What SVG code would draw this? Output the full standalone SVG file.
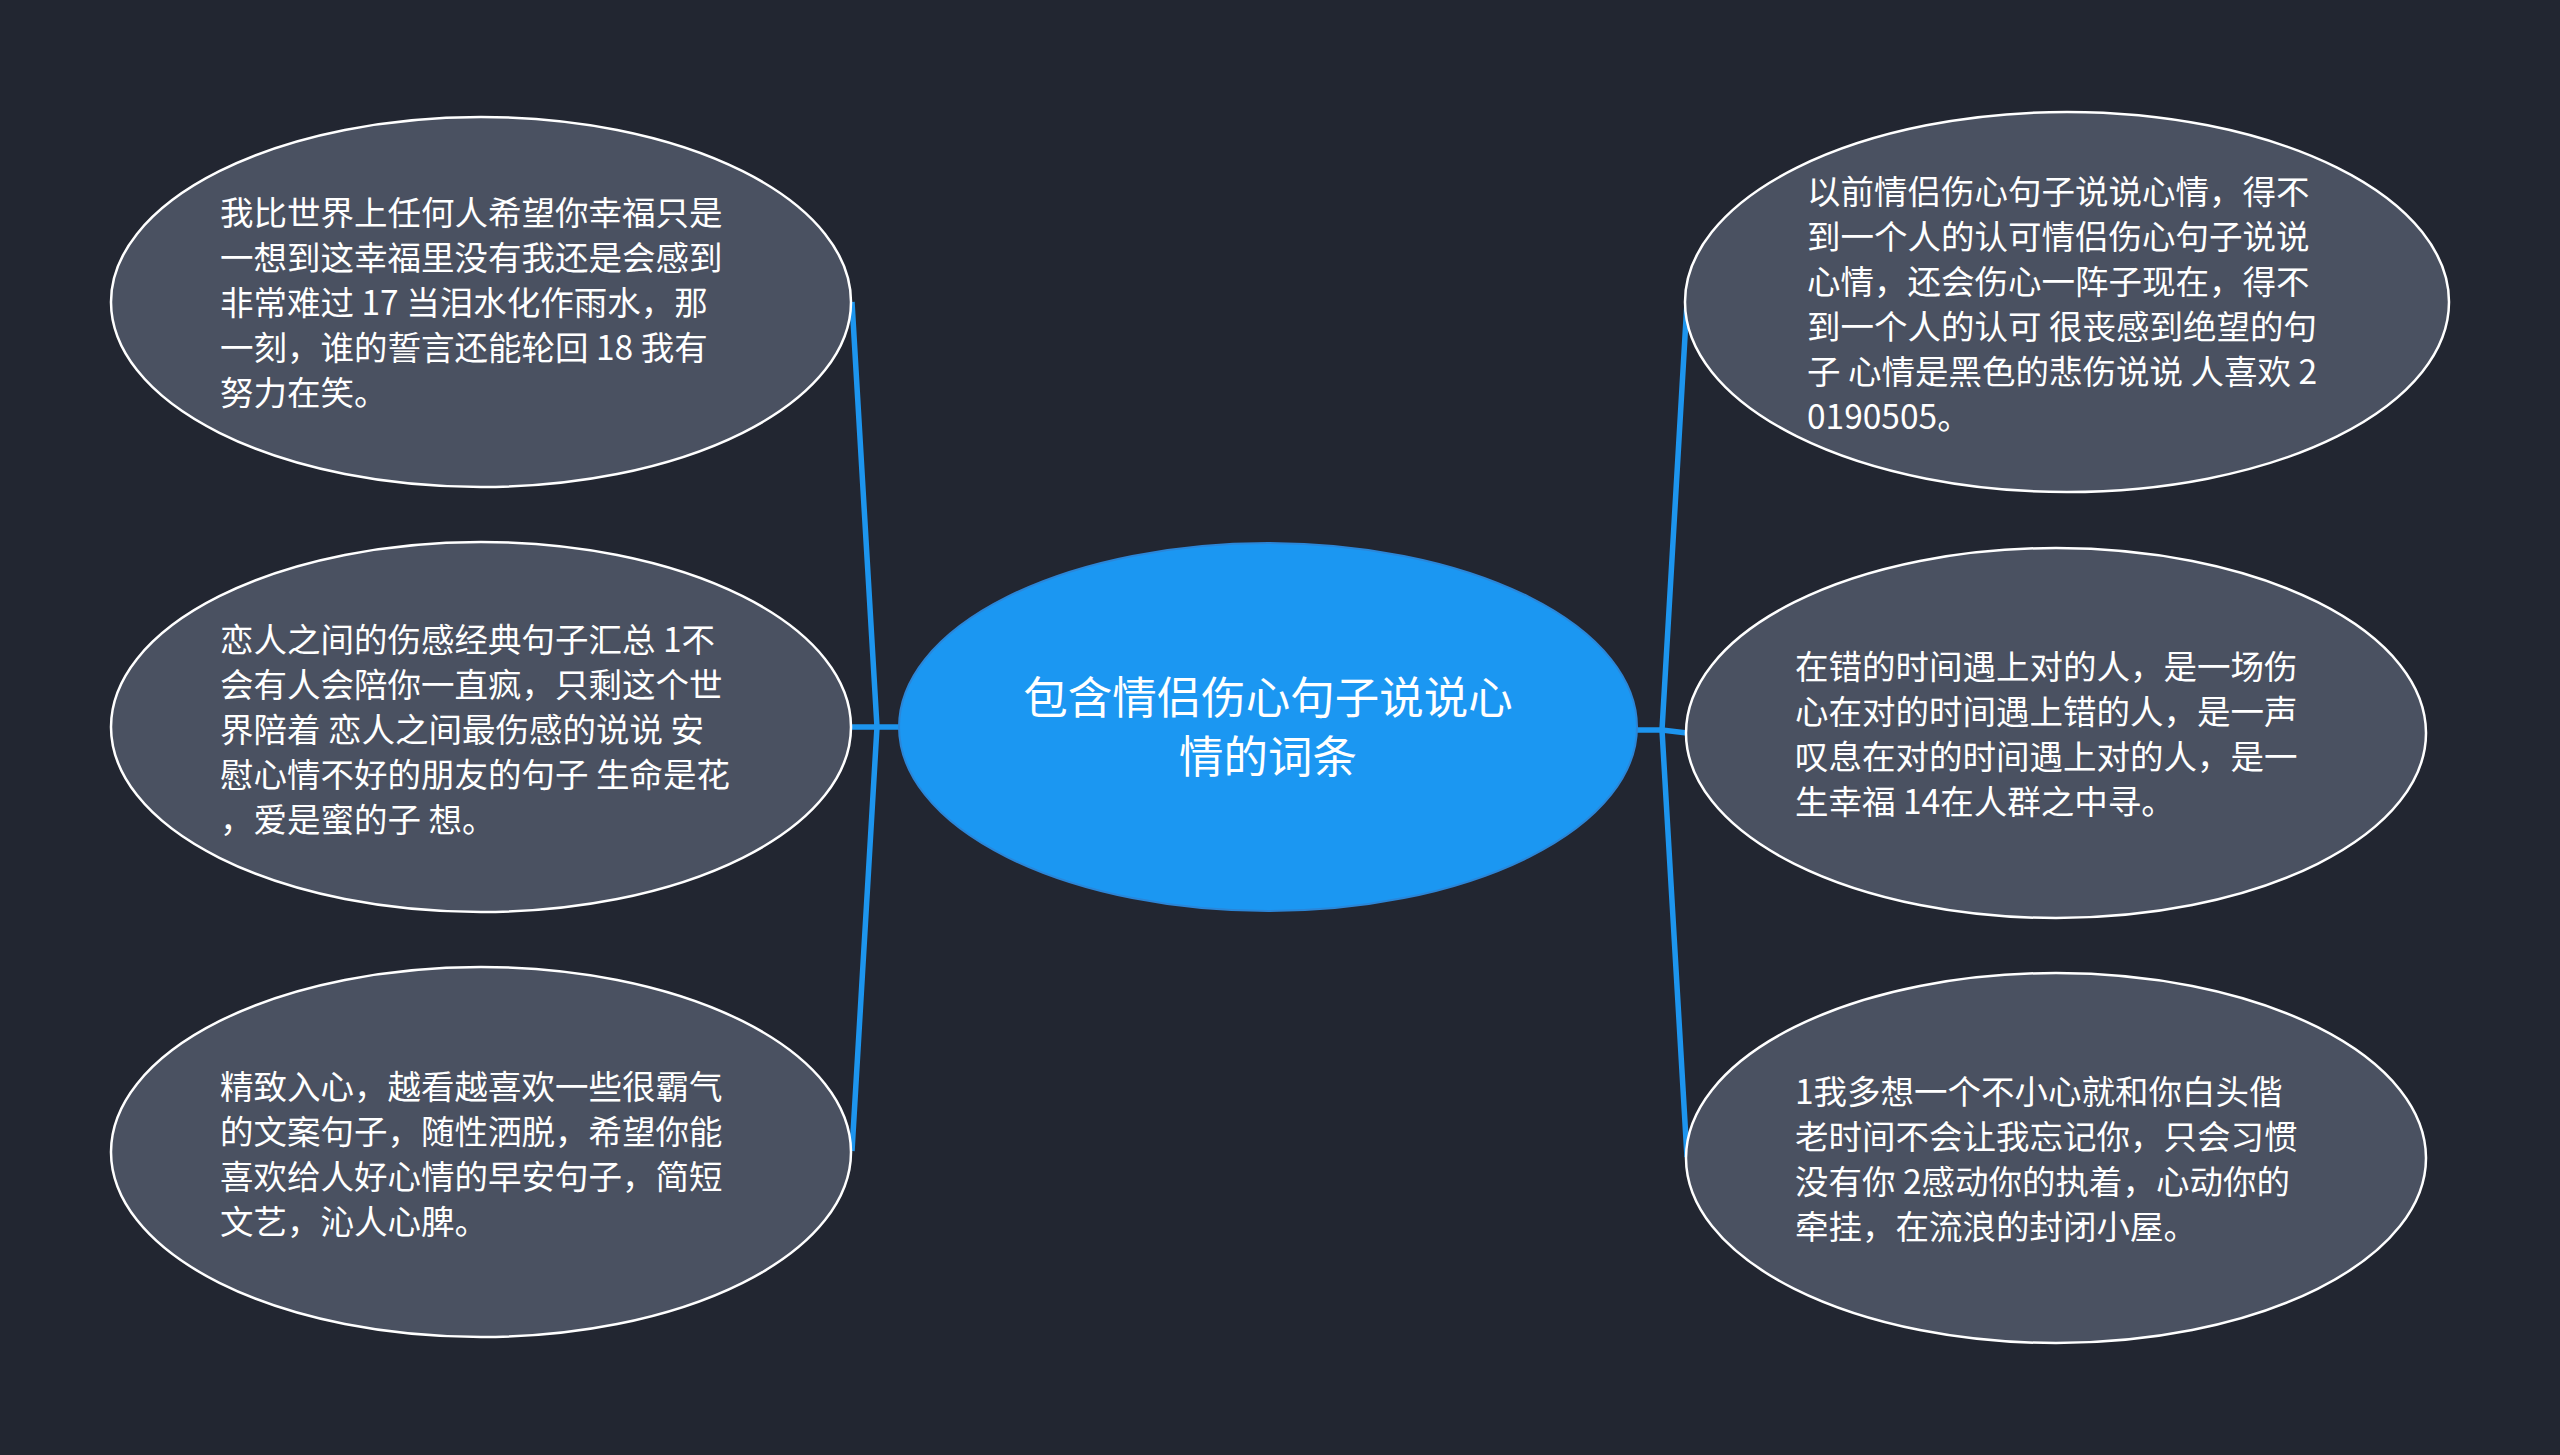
<svg xmlns="http://www.w3.org/2000/svg" width="2560" height="1455" viewBox="0 0 2560 1455">
<style>
.bg{fill:#222631}
.leaf{fill:#4a5161;stroke:#ffffff;stroke-width:2.5}
.root{fill:#1b97f2;stroke:#2b86d8;stroke-width:2}
.conn{stroke:#1d95ee;stroke-width:5.5;fill:none;stroke-linecap:butt}
.t{font-family:"Noto Sans CJK SC","Noto Sans",sans-serif;fill:#ffffff;font-size:33.5px}
.rt{font-family:"Noto Sans CJK SC","Noto Sans",sans-serif;fill:#ffffff;font-size:44.5px;text-anchor:middle}
</style>
<rect class="bg" x="0" y="0" width="2560" height="1455"/>
<g id="connectors">
<path class="conn" d="M852,302 L877,727 L852,1151"/>
<path class="conn" d="M852,727 L900,727"/>
<path class="conn" d="M1687,302 L1662,730 L1687,1157"/>
<path class="conn" d="M1637,730 L1662,730 L1687,733"/>
</g>
<g id="root">
<ellipse class="root" cx="1268" cy="727" rx="369" ry="184"/>
<text class="rt" x="1268" y="714">包含情侣伤心句子说说心</text>
<text class="rt" x="1268" y="773">情的词条</text>
</g>
<g id="n1">
<ellipse class="leaf" cx="481" cy="302" rx="370" ry="185"/>
<text class="t" x="220" y="225">我比世界上任何人希望你幸福只是</text>
<text class="t" x="220" y="270">一想到这幸福里没有我还是会感到</text>
<text class="t" x="220" y="315">非常难过 17 当泪水化作雨水，那</text>
<text class="t" x="220" y="360">一刻，谁的誓言还能轮回 18 我有</text>
<text class="t" x="220" y="405">努力在笑。</text>
</g>
<g id="n2">
<ellipse class="leaf" cx="481" cy="727" rx="370" ry="185"/>
<text class="t" x="220" y="652">恋人之间的伤感经典句子汇总 1不</text>
<text class="t" x="220" y="697">会有人会陪你一直疯，只剩这个世</text>
<text class="t" x="220" y="742">界陪着 恋人之间最伤感的说说 安</text>
<text class="t" x="220" y="787">慰心情不好的朋友的句子 生命是花</text>
<text class="t" x="220" y="832">，爱是蜜的子 想。</text>
</g>
<g id="n3">
<ellipse class="leaf" cx="481" cy="1152" rx="370" ry="185"/>
<text class="t" x="220" y="1099">精致入心，越看越喜欢一些很霸气</text>
<text class="t" x="220" y="1144">的文案句子，随性洒脱，希望你能</text>
<text class="t" x="220" y="1189">喜欢给人好心情的早安句子，简短</text>
<text class="t" x="220" y="1234">文艺，沁人心脾。</text>
</g>
<g id="n4">
<ellipse class="leaf" cx="2067" cy="302" rx="382" ry="190"/>
<text class="t" x="1807" y="204">以前情侣伤心句子说说心情，得不</text>
<text class="t" x="1807" y="249">到一个人的认可情侣伤心句子说说</text>
<text class="t" x="1807" y="294">心情，还会伤心一阵子现在，得不</text>
<text class="t" x="1807" y="339">到一个人的认可 很丧感到绝望的句</text>
<text class="t" x="1807" y="384">子 心情是黑色的悲伤说说 人喜欢 2</text>
<text class="t" x="1807" y="429">0190505。</text>
</g>
<g id="n5">
<ellipse class="leaf" cx="2056" cy="733" rx="370" ry="185"/>
<text class="t" x="1795" y="679">在错的时间遇上对的人，是一场伤</text>
<text class="t" x="1795" y="724">心在对的时间遇上错的人，是一声</text>
<text class="t" x="1795" y="769">叹息在对的时间遇上对的人，是一</text>
<text class="t" x="1795" y="814">生幸福 14在人群之中寻。</text>
</g>
<g id="n6">
<ellipse class="leaf" cx="2056" cy="1158" rx="370" ry="185"/>
<text class="t" x="1795" y="1104">1我多想一个不小心就和你白头偕</text>
<text class="t" x="1795" y="1149">老时间不会让我忘记你，只会习惯</text>
<text class="t" x="1795" y="1194">没有你 2感动你的执着，心动你的</text>
<text class="t" x="1795" y="1239">牵挂，在流浪的封闭小屋。</text>
</g>
</svg>
